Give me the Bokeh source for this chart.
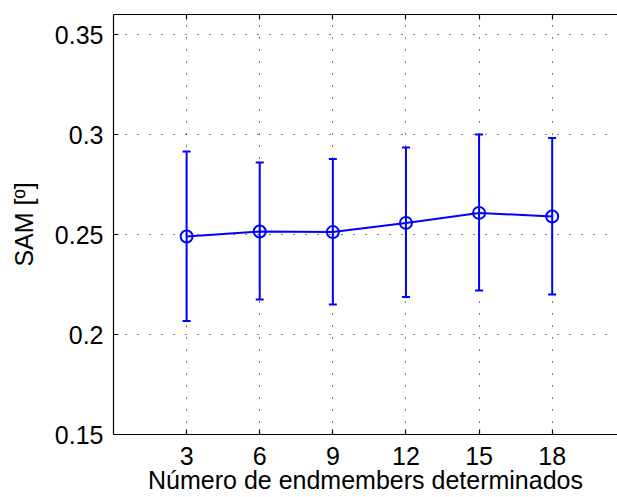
from bokeh.plotting import figure
from bokeh.models import (ColumnDataSource, Whisker, TeeHead, FixedTicker,
                          LinearAxis, Range1d)
from bokeh.embed import file_html
from bokeh.resources import INLINE

# ---- data ----
n_endmembers = [3, 6, 9, 12, 15, 18]
sam_mean = [0.2490, 0.2515, 0.2512, 0.2558, 0.2608, 0.2590]
sam_upper = [0.2915, 0.2860, 0.2877, 0.2935, 0.3000, 0.2983]
sam_lower = [0.2067, 0.2175, 0.2150, 0.2187, 0.2220, 0.2200]

x_ticks = [3, 6, 9, 12, 15, 18]
y_ticks = [0.15, 0.2, 0.25, 0.3, 0.35]
y_tick_labels = ["0.15", "0.2", "0.25", "0.3", "0.35"]
x_label = "Número de endmembers determinados"
y_label = "SAM [º]"

FONT = "Liberation Sans"
BLUE = "#0000FF"

p = figure(width=617, height=497,
           x_range=Range1d(0, 20.68), y_range=Range1d(0.15, 0.36),
           output_backend="svg", toolbar_location=None,
           min_border_left=113, min_border_right=0,
           min_border_top=14, min_border_bottom=63)
p.outline_line_color = None
p.background_fill_color = "white"
p.border_fill_color = "white"


def style_axis(ax, ticker):
    ax.ticker = ticker
    ax.axis_line_color = "black"
    ax.axis_line_width = 1.2
    ax.major_tick_line_color = "black"
    ax.major_tick_line_width = 1.2
    ax.major_tick_in = 5
    ax.major_tick_out = 0
    ax.minor_tick_line_color = None
    ax.major_label_text_font = FONT
    ax.major_label_text_font_size = "25px"
    ax.major_label_text_color = "black"
    ax.axis_label_text_font = FONT
    ax.axis_label_text_font_size = "25px"
    ax.axis_label_text_font_style = "normal"
    ax.axis_label_text_color = "black"


style_axis(p.xaxis[0], FixedTicker(ticks=x_ticks))
p.xaxis.major_label_standoff = 12
p.xaxis.axis_label = x_label
p.xaxis.axis_label_standoff = -2

style_axis(p.yaxis[0], FixedTicker(ticks=y_ticks))
p.yaxis.major_label_overrides = {t: s for t, s in zip(y_ticks, y_tick_labels)}
p.yaxis.major_label_standoff = 10
p.yaxis.axis_label = y_label
p.yaxis.axis_label_standoff = 14

# top border of the box: no labels, only small inward tick marks
top_axis = LinearAxis(ticker=FixedTicker(ticks=[], minor_ticks=x_ticks))
top_axis.axis_line_color = "black"
top_axis.axis_line_width = 1.2
top_axis.major_tick_line_color = None
top_axis.minor_tick_line_color = "black"
top_axis.minor_tick_line_width = 1.2
top_axis.minor_tick_in = 5
top_axis.minor_tick_out = 0
top_axis.major_label_standoff = 0
p.add_layout(top_axis, "above")

p.xgrid.ticker = FixedTicker(ticks=x_ticks)
p.ygrid.ticker = FixedTicker(ticks=y_ticks)
for g in (p.xgrid[0], p.ygrid[0]):
    g.grid_line_color = "black"
    g.grid_line_width = 1
    g.grid_line_dash = "1 11"

src = ColumnDataSource(dict(x=n_endmembers, y=sam_mean,
                            upper=sam_upper, lower=sam_lower))

p.line("x", "y", source=src, line_color=BLUE, line_width=2)
whisker = Whisker(base="x", upper="upper", lower="lower", source=src,
                  line_color=BLUE, line_width=2,
                  upper_head=TeeHead(size=8, line_color=BLUE, line_width=2),
                  lower_head=TeeHead(size=8, line_color=BLUE, line_width=2))
p.add_layout(whisker)
p.scatter("x", "y", source=src, marker="circle", size=12,
          fill_color=None, line_color=BLUE, line_width=2)

open("out.html", "w").write(file_html(p, INLINE))
